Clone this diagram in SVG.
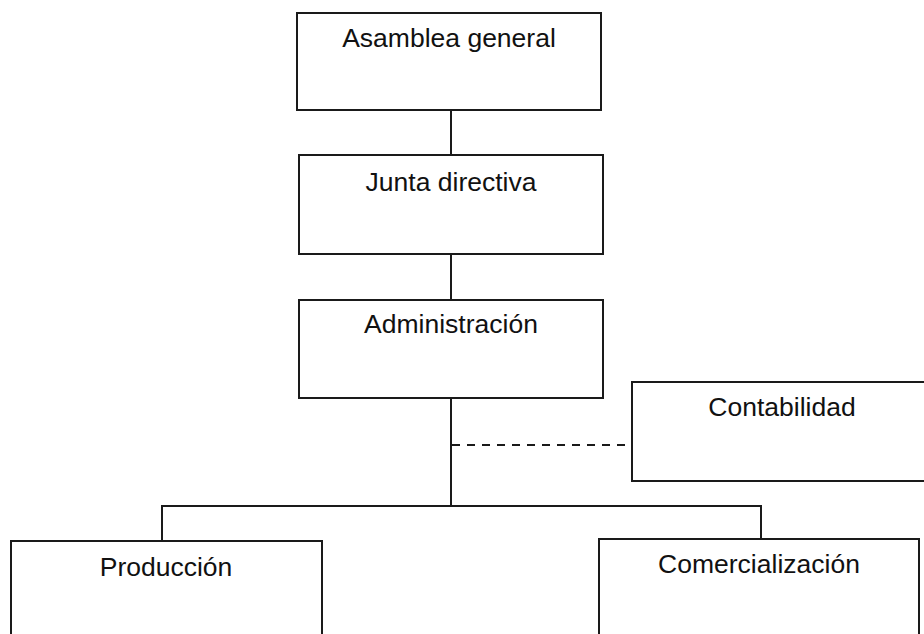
<svg xmlns="http://www.w3.org/2000/svg" width="924" height="634" viewBox="0 0 924 634">
<style>
.box{fill:#fff;stroke:#1a1a1a;stroke-width:2}
.lbl{font-family:"Liberation Sans",Arial,sans-serif;font-size:26.5px;fill:#111;text-anchor:middle}
.ln{fill:none;stroke:#1a1a1a;stroke-width:2}
.dash{stroke-dasharray:8 7}
</style>
<rect width="924" height="634" fill="#fff"/>
<g id="connectors">
<line class="ln" x1="451" y1="110" x2="451" y2="155"/>
<line class="ln" x1="451" y1="254" x2="451" y2="300"/>
<line class="ln" x1="451" y1="398" x2="451" y2="506"/>
<polyline class="ln" points="162,541 162,506 761,506 761,539"/>
<line class="ln dash" x1="452" y1="445" x2="632" y2="445"/>
</g>
<g id="asamblea">
<rect class="box" x="297" y="13" width="304" height="97"/>
<text class="lbl" x="449" y="47">Asamblea general</text>
</g>
<g id="junta">
<rect class="box" x="299" y="155" width="304" height="99"/>
<text class="lbl" x="451" y="191">Junta directiva</text>
</g>
<g id="administracion">
<rect class="box" x="299" y="300" width="304" height="98"/>
<text class="lbl" x="451" y="333">Administración</text>
</g>
<g id="contabilidad">
<rect class="box" x="632" y="382" width="310" height="99"/>
<text class="lbl" x="782" y="416">Contabilidad</text>
</g>
<g id="produccion">
<rect class="box" x="11" y="541" width="311" height="110"/>
<text class="lbl" x="166" y="576">Producción</text>
</g>
<g id="comercializacion">
<rect class="box" x="599" y="539" width="320" height="110"/>
<text class="lbl" x="759" y="573">Comercialización</text>
</g>
</svg>
